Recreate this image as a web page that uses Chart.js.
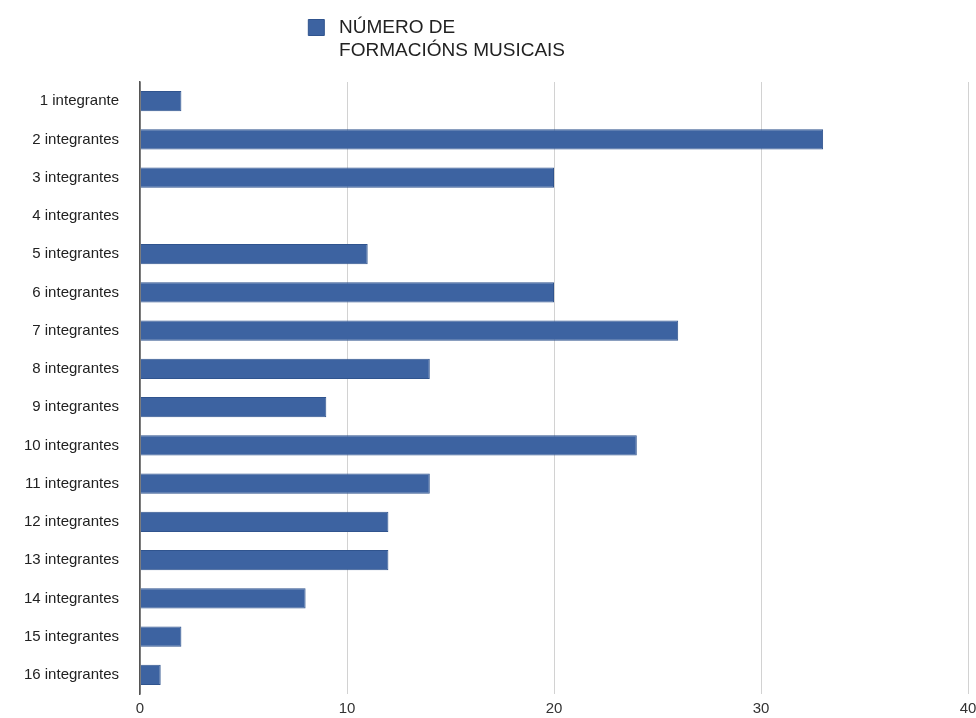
<!DOCTYPE html>
<html>
<head>
<meta charset="utf-8">
<script src="https://cdn.jsdelivr.net/npm/chart.js@4/dist/chart.umd.min.js"></script>
<style>
  html, body { margin: 0; padding: 0; background: #fff; overflow: hidden; }
  canvas { display: block; }
</style>
</head>
<body>
<canvas id="grafico" width="976" height="718"></canvas>
<script>
// datos do gráfico
const categorias = ['1 integrante', '2 integrantes', '3 integrantes', '4 integrantes',
  '5 integrantes', '6 integrantes', '7 integrantes', '8 integrantes', '9 integrantes',
  '10 integrantes', '11 integrantes', '12 integrantes', '13 integrantes', '14 integrantes',
  '15 integrantes', '16 integrantes'];
const formacions = [2, 33, 20, 0, 11, 20, 26, 14, 9, 24, 14, 12, 12, 8, 2, 1];
const etiquetaSerie = [' NÚMERO DE', ' FORMACIÓNS MUSICAIS'];
const ticksX = [0, 10, 20, 30, 40];

const fonte = "'Liberation Sans', Arial, Helvetica, sans-serif";

// move a lenda á súa posición no orixinal e deixa sitio para as dúas liñas
const moverLenda = {
  id: 'moverLenda',
  afterLayout(chart) {
    const lg = chart.legend;
    lg.left += 16;
    lg.right += 16;
    lg.top = 8;
    lg.bottom = 75;
    lg.height = lg.bottom - lg.top;
  }
};

new Chart(document.getElementById('grafico'), {
  type: 'bar',
  data: {
    labels: categorias,
    datasets: [{
      label: etiquetaSerie,
      data: formacions,
      backgroundColor: '#3d63a1',
      borderColor: '#30548e',
      borderWidth: 1,
      barPercentage: 0.53,
      categoryPercentage: 1
    }]
  },
  options: {
    indexAxis: 'y',
    responsive: false,
    animation: false,
    layout: { padding: { top: 43, right: 8, left: 0, bottom: 0 } },
    plugins: {
      tooltip: { enabled: false },
      legend: {
        position: 'top',
        labels: {
          color: '#222',
          font: { family: fonte, size: 19 },
          boxWidth: 16,
          boxHeight: 16,
          padding: 10
        }
      }
    },
    scales: {
      x: {
        min: 0,
        max: 40,
        afterBuildTicks(scale) { scale.ticks = ticksX.map(v => ({ value: v })); },
        afterFit(scale) { scale.height = 24; scale.paddingRight = 0; },
        grid: {
          color: ctx => ctx.tick && ctx.tick.value === 0 ? '#555' : '#d2d2d2',
          lineWidth: ctx => ctx.tick && ctx.tick.value === 0 ? 1.5 : 1,
          drawTicks: false
        },
        border: { display: false },
        ticks: { color: '#333', font: { family: fonte, size: 15 }, padding: 6 }
      },
      y: {
        afterFit(scale) {
          scale.width = 140;
          scale.paddingTop = 0;
          scale.paddingBottom = 0;
        },
        grid: { display: false, drawTicks: false },
        border: { display: true, color: '#555', width: 1.5 },
        ticks: { color: '#222', font: { family: fonte, size: 15 }, padding: 21 }
      }
    }
  },
  plugins: [moverLenda]
});
</script>
</body>
</html>
